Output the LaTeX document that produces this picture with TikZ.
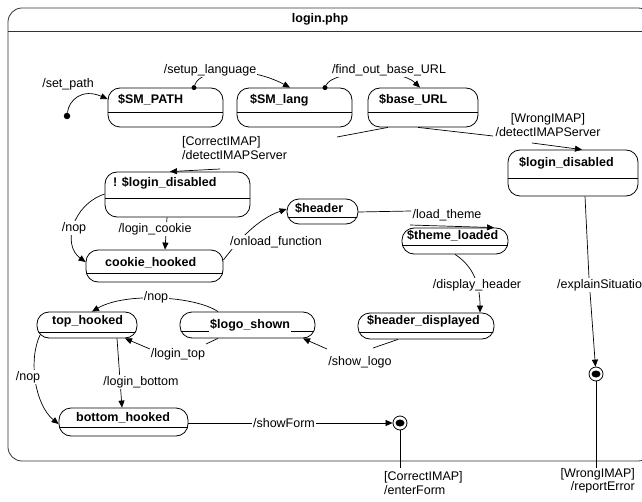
\documentclass[tikz,border=0pt]{standalone}
\usepackage{fontspec}
\setmainfont{Liberation Sans}
\usetikzlibrary{arrows.meta}
\newcommand{\dgfont}{\fontsize{12.5bp}{13.5bp}\selectfont}
% state: name, x1, y1, x2, y2, divider y, text x, text y, text
\newcommand{\mkstate}[9]{%
  \node[statebox, minimum width={(#4-#2)*1bp}, minimum height={(#5-#3)*1bp}]
    (#1) at ({(#2+#4)/2},{(#3+#5)/2}) {};
  \begin{scope}
    \clip[rounded corners=12bp] (#1.south west) rectangle (#1.north east);
    \draw[divline] (#1.west |- 0,#6) -- (#1.east |- 0,#6);
  \end{scope}
  \node[stname] (#1-name) at (#7,#8) {#9};
}
\begin{document}
\begin{tikzpicture}[x=1bp,y=-1bp,
  statebox/.style={draw, rounded corners=12bp, inner sep=0pt, line width=0.8bp},
  divline/.style={line width=0.8bp},
  stname/.style={anchor=west, inner sep=0pt, font=\dgfont\bfseries},
  lbl/.style={fill=white, inner sep=1bp, font=\dgfont},
  ln/.style={line width=0.7bp},
  tr/.style={ln, -{Triangle[length=7bp,width=6bp]}},
  srcdot/.style={circle, fill, inner sep=0pt, minimum size=5bp},
  initdot/.style={circle, fill, inner sep=0pt, minimum size=6.5bp},
  finalst/.style={circle, draw, fill=white, line width=0.8bp, inner sep=0pt, minimum size=14bp},
  framebox/.style={draw=black!80, line width=0.8bp, rounded corners=14bp, inner sep=0pt}
]
\useasboundingbox (0,0) rectangle (642,502);
\clip (0,0) rectangle (642,502);

% enclosing composite state
\node[framebox, minimum width=644bp, minimum height=453bp] (frame) at (330,234.5) {};
\node[font=\dgfont\bfseries] (title) at (320,19) {login.php};
\draw[black!80, line width=0.8bp] (frame.west |- 0,31) -- (frame.east |- 0,31);

% states
\mkstate{smpath}{108}{88}{223}{127}{112}{118}{100}{\$SM\_PATH}
\mkstate{smlang}{237}{88}{352}{127}{112}{250}{100}{\$SM\_lang}
\mkstate{baseurl}{368}{88}{478}{127}{112}{379}{100}{\$base\_URL}
\mkstate{notlogin}{105}{172}{250}{217}{198}{113}{183}{! \$login\_disabled}
\mkstate{logindis}{508}{150}{638}{196}{178}{519}{163}{\$login\_disabled}
\mkstate{header}{287}{199}{358}{224}{217}{295}{208}{\$header}
\mkstate{themeld}{402}{228}{508}{254}{245}{407}{236}{\$theme\_loaded}
\mkstate{cookie}{86}{250}{223}{282}{273}{105}{263}{cookie\_hooked}
\mkstate{tophooked}{37}{312}{137}{338}{332}{52}{321}{top\_hooked}
\begin{scope}[stname/.append style={fill=white, inner sep=1bp}]
\mkstate{logoshown}{180}{312}{315}{338}{331}{209}{325}{\$logo\_shown}
\end{scope}
\mkstate{hdrdisp}{358}{313}{494}{339}{332}{367}{321}{\$header\_displayed}
\mkstate{bottomhooked}{59}{408}{188}{436}{427}{76}{418}{bottom\_hooked}

% pseudo states
\node[initdot] (init) at (67,116) {};
\node[srcdot] (s1) at (smpath.north -| 194,0) {};
\node[srcdot] (s2) at (smlang.north -| 325,0) {};
\node[finalst] (fin1) at (400,423) {};
\fill (fin1.center) ellipse (4.5bp and 3.5bp);
\node[finalst] (fin2) at (596,374) {};
\fill (fin2.center) ellipse (4.5bp and 3.5bp);

% break points where transitions meet their labels
\coordinate (ca1) at (337,137);
\coordinate (ca2) at (220,169);
\coordinate (cb1) at (493,136);
\coordinate (cb2) at (532,143);
\coordinate (cc1) at (589,278);
\coordinate (cc2) at (590,292);
\coordinate (cf1) at (411,211);
\coordinate (cf2) at (410,225);
\coordinate (cg1) at (373,348);
\coordinate (cg2) at (327,349);
\coordinate (ch1) at (206,344);
\coordinate (ch2) at (150,349);
\coordinate (exit1) at (400,468);
\coordinate (exit2) at (596,468);

% transitions
\draw[tr] (init) .. controls (69,100) and (82,88) .. (smpath.west |- 0,99);
\draw[tr] (s1) .. controls (200,68) and (250,66) .. (smlang.north -| 290,0);
\draw[tr] (s2) .. controls (333,70) and (400,68) .. (baseurl.north -| 420,0);
\draw[ln] (baseurl.south -| 388,0) -- (ca1);
\draw[tr] (ca2) -- (notlogin.north -| 170,0);
\draw[ln] (baseurl.south -| 418,0) -- (cb1);
\draw[tr] (cb2) -- (logindis.north -| 582,0);
\draw[ln] (logindis.south -| 585,0) -- (cc1);
\draw[tr] (cc2) -- (fin2);
\draw[ln] (fin2) -- (exit2);
\draw[ln] (fin1) -- (exit1);
\draw[tr] (bottomhooked.east |- 0,423) -- (fin1);
\draw[tr] (notlogin.west |- 0,194) .. controls (72,205) and (62,245) .. (cookie.west |- 0,262);
\draw[tr] (notlogin.south -| 167,0) -- (cookie.north -| 165,0);
\draw[tr] (cookie.east |- 0,260) .. controls (235,245) and (255,220) .. (header.west |- 0,209);
\draw[ln] (header.east |- 0,212) -- (cf1);
\draw[tr] (cf2) -- (themeld.north -| 494,0);
\draw[tr] (themeld.south -| 455,0) .. controls (470,264) and (480,280) .. (hdrdisp.north -| 480,0);
\draw[ln] (hdrdisp.south -| 398,0) -- (cg1);
\draw[tr] (cg2) -- (logoshown.south -| 303,0);
\draw[tr] (logoshown.north -| 218,0) .. controls (195,296) and (125,292) .. (tophooked.north -| 92,0);
\draw[ln] (logoshown.south -| 218,0) -- (ch1);
\draw[tr] (ch2) -- (tophooked.south -| 125,0);
\draw[tr] ([shift={(3.5,-3.5)}]tophooked.south west) .. controls (28,360) and (35,405) .. (bottomhooked.west |- 0,424);
\draw[tr] (tophooked.south -| 117,0) -- (bottomhooked.north -| 122,0);

% transition labels
\node[lbl] (l-setpath) at (68,84) {/set\_path};
\node[lbl] (l-setup) at (210,70) {/setup\_language};
\node[lbl] (l-find) at (389,70) {/find\_out\_base\_URL};
\node[lbl, align=left, anchor=west] (l-cimap) at (181,148) {[CorrectIMAP]\\/detectIMAPServer};
\node[lbl, align=center] (l-wimap) at (548,125) {[WrongIMAP]\\/detectIMAPServer};
\node[lbl, anchor=west] (l-explain) at (556,285) {/explainSituation};
\node[lbl] (l-nop1) at (74,228) {/nop};
\node[lbl] (l-cookie) at (155,229) {/login\_cookie};
\node[lbl] (l-onload) at (276,242) {/onload\_function};
\node[lbl] (l-theme) at (447,215) {/load\_theme};
\node[lbl] (l-disp) at (477,285) {/display\_header};
\node[lbl] (l-nop2) at (156,297) {/nop};
\node[lbl] (l-top) at (178,354) {/login\_top};
\node[lbl] (l-logo) at (360,362) {/show\_logo};
\node[lbl] (l-nop3) at (28,377) {/nop};
\node[lbl] (l-bottom) at (141,382) {/login\_bottom};
\node[lbl] (l-form) at (284,423) {/showForm};
\node[font=\dgfont, align=left, anchor=west, inner sep=0pt] (l-enter) at (384,483) {[CorrectIMAP]\\/enterForm};
\node[font=\dgfont, align=right, anchor=east, inner sep=0pt] (l-report) at (635,481) {[WrongIMAP]\\/reportError};
\end{tikzpicture}
\end{document}
